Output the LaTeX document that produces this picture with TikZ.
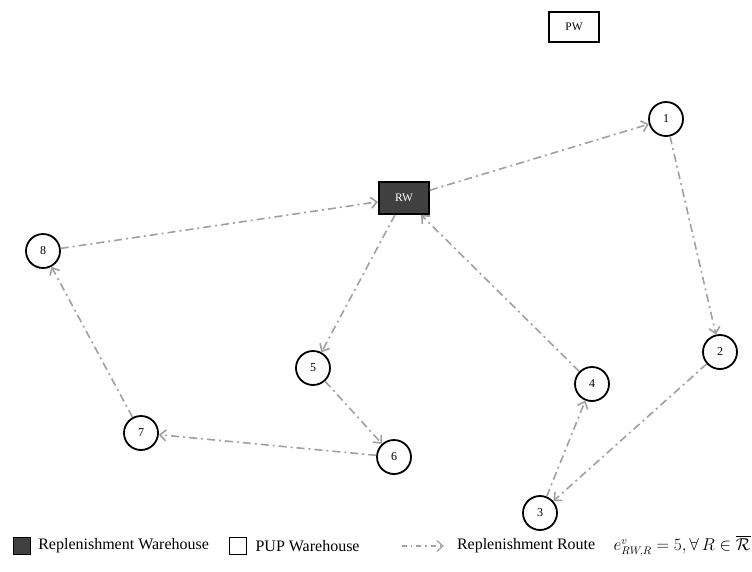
\documentclass[tikz,border=0pt]{standalone}
\usepackage{fontspec}
\setmainfont{Liberation Serif}
\usepackage{amsmath, amssymb}
\usepackage{xcolor}
\usepackage{tikz}
\usetikzlibrary{arrows.meta, positioning}
\definecolor{rw_fill}{RGB}{64, 64, 64}
\definecolor{route_gray}{RGB}{160, 160, 160}

\begin{document}
\begin{tikzpicture}[
        x=1pt, y=-1pt,
        pup/.style={circle, draw=black, line width=1.8pt, fill=white,
                    minimum size=34pt, inner sep=0pt, font=\fontsize{12}{14}\selectfont},
        depot/.style={rectangle, draw=black, line width=1.8pt, fill=white,
                      minimum width=50pt, minimum height=30pt, font=\fontsize{11.5}{13}\selectfont},
        rwdepot/.style={depot, fill=rw_fill, text=white, minimum height=32pt},
        route/.style={-{Straight Barb[length=6pt, width=11pt]}, line width=1.6pt, route_gray,
                      dash pattern=on 8pt off 4pt on 2pt off 4pt},
        key/.style={rectangle, draw=black, line width=1.2pt, minimum size=17pt, inner sep=0pt},
        lgd/.style={font=\fontsize{16}{18}\selectfont, inner sep=0pt},
      ]
        \useasboundingbox (0,0) rectangle (752,571);

        % warehouses
        \node[depot]   (PW) at (574,27)  {PW};
        \node[rwdepot] (RW) at (404,198) {RW};

        % pickup points
        \node[pup] (n1) at (666,119) {1};
        \node[pup] (n2) at (720,352) {2};
        \node[pup] (n3) at (540,513) {3};
        \node[pup] (n4) at (592,384) {4};
        \node[pup] (n5) at (313,368) {5};
        \node[pup] (n6) at (394,457) {6};
        \node[pup] (n7) at (141,433) {7};
        \node[pup] (n8) at (43,251)  {8};

        % replenishment routes
        \draw[route] (RW) -- (n1);
        \draw[route] (n1) -- (n2);
        \draw[route] (n2) -- (n3);
        \draw[route] (n3) -- (n4);
        \draw[route] (n4) -- (RW);
        \draw[route] (RW) -- (n5);
        \draw[route] (n5) -- (n6);
        \draw[route] (n6) -- (n7);
        \draw[route] (n7) -- (n8);
        \draw[route] (n8) -- (RW);

        % legend
        \node[key, fill=rw_fill] (kRW) at (22,546) {};
        \node[lgd, right=7pt of kRW] (tRW) {Replenishment Warehouse};
        \node[key, fill=white, right=20pt of tRW] (kPW) {};
        \node[lgd, right=8pt of kPW] (tPW) {PUP Warehouse};
        \coordinate[right=42pt of tPW] (rA);
        \coordinate[right=42pt of rA]  (rB);
        \draw[route, line width=1.2pt, dash pattern=on 5pt off 4pt on 1.5pt off 4pt] (rA) -- (rB);
        \node[lgd, right=13pt of rB] (tRt) {Replenishment Route};
        \node[lgd, right=18pt of tRt] (tE) {$e^{v}_{RW,R}=5,\forall\, R\in\overline{\mathcal{R}}$};
      \end{tikzpicture}
\end{document}
